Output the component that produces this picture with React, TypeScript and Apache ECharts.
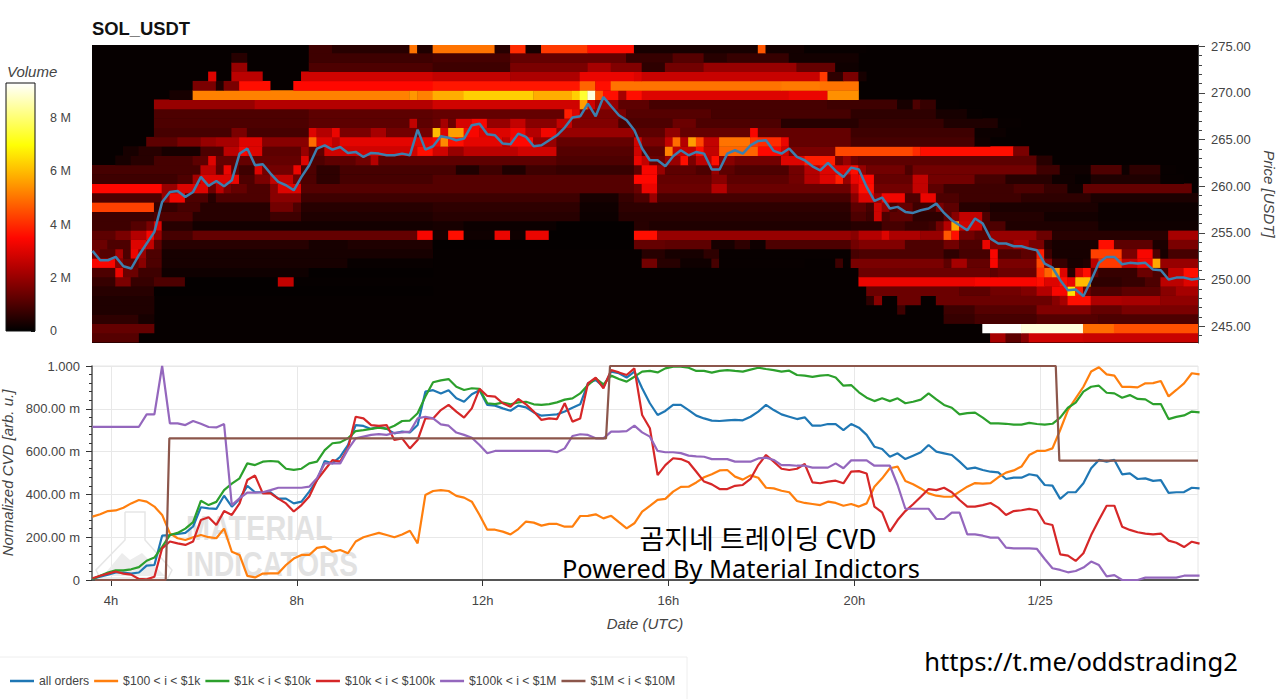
import * as echarts from "echarts";
import { useEffect, useRef } from "react";

const startHour = 3.6;
const hourTicks = [4, 8, 12, 16, 20, 24];
const hourLabels: Record<number, string> = { 4: "4h", 8: "8h", 12: "12h", 16: "16h", 20: "20h", 24: "1/25" };
const priceTicks = [245, 250, 255, 260, 265, 270, 275];
const priceMinorTicks = [244, 246, 247, 248, 249, 251, 252, 253, 254, 256, 257, 258, 259, 261, 262, 263, 264, 266, 267, 268, 269, 271, 272, 273, 274];
const seriesNames = ["all orders", "$100 < i < $1k", "$1k < i < $10k", "$10k < i < $100k", "$100k < i < $1M", "$1M < i < $10M"];
const seriesColors = ["#1f77b4", "#ff7f0e", "#2ca02c", "#d62728", "#9467bd", "#8c564b"];
const hotColors = ["#000000", "#5a0000", "#af0000", "#ff0700", "#ff5a00", "#ffaf00", "#ffff05", "#ffff82", "#ffffff"];

const priceLine = [
  253.07, 252.07, 252.07, 252.43, 251.43, 251.18, 252.61, 253.86, 255.11, 258.32, 259.39, 259.5, 258.86, 259.39, 261, 260.04,
  260.57, 260, 260.64, 263.5, 264.04, 262.25, 262.36, 261.36, 260.46, 260.11, 259.57, 261, 262.25, 264.04, 264.39, 263.93,
  264.21, 263.57, 263.68, 263.14, 263.57, 263.5, 263.32, 263.32, 263.5, 263.32, 266.07, 263.93, 264.29, 265.36, 265.21, 264.93,
  265.11, 266.54, 266.71, 265.57, 265.46, 264.57, 264.5, 265.64, 265.29, 264.29, 264.39, 264.93, 265.46, 266.29, 267.36, 267.5,
  268.86, 267.5, 269.57, 268.57, 267.61, 267.07, 266, 264.04, 262.79, 262.79, 262.14, 263.21, 263.86, 263.32, 263.68, 263.5,
  261.79, 261.79, 263.5, 263.86, 263.5, 264.39, 264.86, 264.93, 263.79, 263.5, 264.04, 263.14, 262.79, 262.14, 261.71, 262.5,
  261.64, 261, 262, 261.79, 259.93, 258.43, 258.79, 257.61, 257.79, 257.25, 257.14, 257.43, 257.61, 258.14, 257.14, 256.36,
  255.82, 255.29, 256.54, 256, 254.39, 253.86, 253.86, 253.57, 253.57, 253.32, 253.14, 251.71, 251.29, 249.93, 248.86, 248.93,
  248.21, 249.93, 251.79, 252.43, 252.43, 251.64, 251.79, 251.71, 251.79, 251.07, 251, 250, 250.21, 250.21, 250, 250.11,
];

const allOrders = [
  0.005, 0.015, 0.025, 0.035, 0.035, 0.03, 0.035, 0.067, 0.07, 0.207, 0.21, 0.215, 0.22, 0.25, 0.34, 0.335, 0.332, 0.394, 0.343, 0.379,
  0.44, 0.41, 0.41, 0.41, 0.38, 0.38, 0.358, 0.366, 0.413, 0.467, 0.556, 0.545, 0.576, 0.63, 0.724, 0.72, 0.706, 0.717, 0.706, 0.685,
  0.693, 0.69, 0.724, 0.88, 0.887, 0.872, 0.887, 0.849, 0.833, 0.868, 0.887, 0.818, 0.815, 0.802, 0.791, 0.815, 0.807, 0.783, 0.768, 0.771,
  0.774, 0.787, 0.805, 0.821, 0.919, 0.935, 0.903, 0.974, 0.966, 0.946, 0.974, 0.896, 0.826, 0.771, 0.79, 0.818, 0.818, 0.794, 0.768, 0.755,
  0.745, 0.743, 0.746, 0.748, 0.746, 0.763, 0.787, 0.818, 0.794, 0.774, 0.763, 0.752, 0.76, 0.721, 0.721, 0.729, 0.728, 0.7, 0.729, 0.712,
  0.678, 0.623, 0.612, 0.576, 0.592, 0.565, 0.581, 0.597, 0.631, 0.6, 0.592, 0.584, 0.553, 0.519, 0.525, 0.514, 0.506, 0.503, 0.472, 0.478,
  0.478, 0.494, 0.488, 0.444, 0.441, 0.379, 0.41, 0.41, 0.452, 0.522, 0.561, 0.553, 0.561, 0.494, 0.498, 0.472, 0.475, 0.463, 0.467, 0.407,
  0.41, 0.411, 0.431, 0.428,
];

const orders100to1k = [
  0.296, 0.307, 0.322, 0.325, 0.338, 0.358, 0.374, 0.366, 0.343, 0.304, 0.218, 0.195, 0.187, 0.2, 0.21, 0.2, 0.195, 0.24, 0.132, 0.117,
  0.019, 0.012, 0.03, 0.031, 0.031, 0.07, 0.1, 0.117, 0.117, 0.15, 0.156, 0.132, 0.14, 0.125, 0.18, 0.2, 0.21, 0.22, 0.21, 0.2,
  0.213, 0.23, 0.171, 0.397, 0.416, 0.42, 0.416, 0.393, 0.385, 0.366, 0.304, 0.235, 0.235, 0.226, 0.213, 0.238, 0.273, 0.268, 0.254, 0.262,
  0.262, 0.249, 0.249, 0.299, 0.3, 0.307, 0.288, 0.3, 0.27, 0.241, 0.265, 0.319, 0.346, 0.374, 0.379, 0.413, 0.435, 0.436, 0.456, 0.48,
  0.494, 0.512, 0.514, 0.483, 0.469, 0.489, 0.478, 0.431, 0.428, 0.417, 0.41, 0.369, 0.36, 0.355, 0.35, 0.366, 0.36, 0.347, 0.355, 0.343,
  0.358, 0.436, 0.475, 0.522, 0.53, 0.463, 0.447, 0.428, 0.405, 0.394, 0.389, 0.389, 0.413, 0.436, 0.453, 0.45, 0.453, 0.48, 0.502, 0.512,
  0.53, 0.584, 0.603, 0.603, 0.615, 0.701, 0.794, 0.849, 0.903, 0.974, 0.994, 0.961, 0.955, 0.902, 0.902, 0.9, 0.919, 0.92, 0.93, 0.858,
  0.888, 0.919, 0.966, 0.961,
];

const orders1kto10k = [
  0.005, 0.02, 0.035, 0.045, 0.045, 0.05, 0.06, 0.09, 0.105, 0.155, 0.21, 0.22, 0.24, 0.27, 0.37, 0.35, 0.365, 0.42, 0.45, 0.475,
  0.545, 0.537, 0.553, 0.556, 0.553, 0.52, 0.515, 0.52, 0.545, 0.553, 0.607, 0.639, 0.643, 0.662, 0.696, 0.7, 0.706, 0.712, 0.706, 0.721,
  0.743, 0.745, 0.779, 0.857, 0.924, 0.933, 0.939, 0.903, 0.888, 0.896, 0.893, 0.826, 0.822, 0.829, 0.821, 0.83, 0.833, 0.821, 0.818, 0.822,
  0.83, 0.843, 0.849, 0.872, 0.911, 0.942, 0.914, 0.955, 0.939, 0.927, 0.95, 0.974, 0.977, 0.97, 0.989, 0.997, 0.997, 0.992, 0.977, 0.977,
  0.969, 0.977, 0.981, 0.977, 0.974, 0.983, 0.992, 0.986, 0.981, 0.974, 0.978, 0.958, 0.955, 0.949, 0.955, 0.958, 0.946, 0.908, 0.911, 0.877,
  0.852, 0.836, 0.849, 0.836, 0.849, 0.826, 0.833, 0.843, 0.872, 0.844, 0.818, 0.805, 0.774, 0.78, 0.782, 0.759, 0.732, 0.732, 0.73, 0.726,
  0.726, 0.734, 0.729, 0.726, 0.73, 0.759, 0.805, 0.829, 0.88, 0.903, 0.908, 0.875, 0.872, 0.852, 0.864, 0.846, 0.844, 0.822, 0.822, 0.752,
  0.762, 0.769, 0.787, 0.783,
];

const orders10kto100k = [
  0.008, 0.02, 0.03, 0.04, 0.03, 0.025, 0.005, 0.003, 0.015, 0.148, 0.18, 0.171, 0.164, 0.18, 0.28, 0.293, 0.257, 0.322, 0.304, 0.358,
  0.467, 0.488, 0.405, 0.405, 0.38, 0.358, 0.32, 0.35, 0.39, 0.467, 0.514, 0.56, 0.553, 0.615, 0.763, 0.755, 0.724, 0.72, 0.724, 0.654,
  0.662, 0.615, 0.654, 0.755, 0.755, 0.794, 0.818, 0.787, 0.759, 0.802, 0.893, 0.86, 0.857, 0.826, 0.81, 0.846, 0.821, 0.787, 0.748, 0.755,
  0.752, 0.826, 0.74, 0.755, 0.919, 0.946, 0.896, 0.981, 0.97, 0.958, 0.989, 0.771, 0.709, 0.49, 0.537, 0.569, 0.565, 0.55, 0.506, 0.46,
  0.447, 0.425, 0.425, 0.44, 0.444, 0.472, 0.537, 0.584, 0.553, 0.52, 0.514, 0.52, 0.542, 0.456, 0.452, 0.46, 0.464, 0.452, 0.506, 0.509,
  0.498, 0.343, 0.316, 0.226, 0.28, 0.322, 0.354, 0.389, 0.425, 0.42, 0.431, 0.41, 0.374, 0.343, 0.343, 0.35, 0.36, 0.338, 0.304, 0.322,
  0.326, 0.332, 0.326, 0.265, 0.257, 0.12, 0.114, 0.089, 0.125, 0.21, 0.28, 0.347, 0.347, 0.249, 0.234, 0.223, 0.217, 0.213, 0.217, 0.184,
  0.174, 0.154, 0.179, 0.17,
];

const orders100kto1M = [
  0.716, 0.716, 0.716, 0.716, 0.716, 0.716, 0.716, 0.774, 0.774, 1, 0.732, 0.732, 0.724, 0.743, 0.73, 0.715, 0.713, 0.729, 0.35, 0.382,
  0.408, 0.408, 0.41, 0.42, 0.431, 0.431, 0.431, 0.431, 0.436, 0.475, 0.545, 0.545, 0.545, 0.61, 0.662, 0.67, 0.678, 0.682, 0.678, 0.688,
  0.69, 0.693, 0.755, 0.763, 0.755, 0.727, 0.721, 0.689, 0.678, 0.665, 0.631, 0.592, 0.603, 0.603, 0.603, 0.603, 0.603, 0.603, 0.603, 0.603,
  0.597, 0.615, 0.673, 0.681, 0.678, 0.662, 0.662, 0.693, 0.693, 0.696, 0.721, 0.69, 0.67, 0.603, 0.597, 0.597, 0.593, 0.581, 0.578, 0.576,
  0.565, 0.565, 0.565, 0.553, 0.553, 0.553, 0.568, 0.572, 0.561, 0.537, 0.537, 0.534, 0.534, 0.525, 0.525, 0.525, 0.545, 0.522, 0.559, 0.559,
  0.559, 0.534, 0.534, 0.534, 0.444, 0.333, 0.333, 0.333, 0.333, 0.285, 0.285, 0.315, 0.315, 0.213, 0.213, 0.207, 0.198, 0.198, 0.151, 0.148,
  0.148, 0.148, 0.145, 0.098, 0.055, 0.047, 0.036, 0.042, 0.058, 0.086, 0.07, 0.017, 0.023, 0, 0, 0, 0.011, 0.011, 0.011, 0.011,
  0.011, 0.02, 0.02, 0.02,
];

const orders1Mto10MHours = [3.655, 5.177, 5.255, 14.656, 14.742, 24.338, 24.415, 27.4];
const orders1Mto10M = [0, 0, 0.662, 0.662, 1, 1, 0.558, 0.558];

// volume per price row, bottom row first: pairs of first 10 min column and volume in millions
const volumeRows = [
  [0, 1.1, 6, 0, 116, 2.2, 118, 1.2, 120, 1.8, 121, 2.8, 128, 2.7],
  [0, 1.3, 8, 0, 115, 9.3, 120, 9, 128, 4.9, 132, 4.5],
  [0, 0.6, 6, 0.3, 8, 0, 110, 0.7, 114, 0.9, 122, 1.1, 130, 1],
  [0, 0.4, 8, 0, 104, 0.8, 105, 0, 110, 0.8, 114, 1.1, 122, 1.7, 129, 1.3, 133, 1.6],
  [0, 0.4, 8, 0, 100, 0.6, 101, 1.8, 102, 0, 104, 1.4, 107, 0, 109, 1.4, 124, 1.8, 125, 2.2, 126, 3.6, 129, 2.3, 133, 2.2, 138, 1.9],
  [0, 0.5, 8, 0.05, 44, 0, 100, 1.4, 112, 1.2, 116, 1.5, 120, 1.7, 122, 2.4, 124, 3.4, 126, 6.6, 127, 3.8, 128, 1.4, 129, 1, 133, 1.2, 138, 1.8, 140, 2.2],
  [0, 0.7, 3, 1.6, 5, 0.7, 8, 1, 12, 0.05, 24, 2.6, 26, 0, 99, 3.2, 114, 3.4, 122, 3.6, 123, 3, 125, 3.6, 126, 3.2, 127, 6, 129, 0.6, 133, 0.7, 136, 1, 138, 2.5, 141, 3],
  [0, 1, 3, 3.2, 4, 1.4, 6, 0.8, 9, 0.2, 28, 0.05, 44, 0, 99, 1.4, 116, 1.2, 117, 1.4, 122, 4, 123, 4.8, 124, 5.5, 125, 3, 126, 0.5, 127, 2.8, 128, 3.6, 129, 1.2, 130, 0.7, 135, 1.4, 137, 1, 139, 2.6, 141, 3.6, 143, 2.4],
  [0, 3.4, 3, 1.8, 4, 1.3, 6, 1.8, 7, 1, 9, 0.3, 33, 0.1, 44, 0, 71, 1.5, 73, 0.5, 76, 0.2, 80, 0.9, 81, 0.1, 92, 0, 96, 0.8, 97, 0.1, 98, 1.6, 110, 1.2, 111, 2.2, 113, 1.3, 116, 3.4, 117, 1.6, 122, 4.4, 123, 1.8, 124, 0.7, 126, 0.3, 128, 0.4, 129, 2.5, 130, 4.2, 133, 2.7, 135, 3.3, 137, 5.7, 138, 2],
  [0, 1.5, 1, 1.1, 3, 2.2, 4, 1, 5, 3.2, 6, 2, 7, 1, 9, 0.3, 44, 0, 71, 0.5, 74, 0.3, 79, 0.6, 81, 0.1, 98, 0.9, 99, 1, 110, 0.6, 112, 0.9, 116, 3.4, 117, 1, 120, 1.2, 122, 3.8, 123, 0.8, 124, 0.3, 129, 4.3, 133, 1.6, 135, 3.4, 137, 1, 138, 0.3, 139, 0.9],
  [0, 1.4, 2, 1, 5, 3, 7, 2.6, 8, 1.2, 9, 0.5, 28, 0.3, 33, 0.4, 44, 0.05, 70, 1.3, 74, 1.2, 80, 0.3, 83, 0.6, 85, 0.2, 87, 1, 98, 1.5, 99, 1.7, 105, 1, 110, 1.5, 112, 1, 115, 3.2, 116, 1.7, 119, 2.2, 121, 1.6, 123, 0.5, 124, 0.3, 130, 3.6, 132, 1.2, 137, 0.35, 139, 1.6],
  [0, 1.2, 3, 1.6, 5, 2.4, 7, 3.4, 8, 2, 9, 0.9, 13, 1.3, 42, 3.4, 44, 0.3, 46, 3.6, 48, 0.2, 52, 3.2, 54, 0.2, 56, 3.2, 59, 0.05, 70, 3.6, 73, 2, 98, 1.8, 99, 2.4, 102, 3, 103, 2.3, 107, 2, 110, 4.6, 111, 3.6, 112, 1.5, 114, 1.2, 116, 2, 122, 1.4, 124, 0.5, 139, 2.2],
  [0, 0.8, 5, 1.1, 7, 1.6, 8, 3, 9, 0.5, 13, 0.25, 44, 0.3, 48, 0.15, 60, 0.05, 70, 0.5, 72, 0.4, 98, 0.5, 102, 0.9, 105, 0.7, 108, 0.8, 109, 1.5, 110, 2.4, 111, 5.7, 112, 2.8, 115, 1, 118, 0.4, 130, 0.2],
  [0, 0.8, 8, 1, 13, 0.5, 23, 0.8, 27, 0.4, 44, 0.5, 63, 0.15, 68, 0.5, 98, 1, 100, 0.8, 101, 2.8, 102, 1, 103, 1.2, 106, 0.6, 110, 1.2, 111, 1.8, 112, 2.6, 115, 1, 116, 0.45, 123, 0.25, 130, 0.15],
  [0, 4.3, 8, 0.7, 11, 0.9, 14, 0.5, 23, 1.5, 26, 1, 27, 0.5, 44, 0.6, 63, 0.2, 68, 0.6, 98, 1.2, 100, 0.9, 101, 2.8, 102, 2, 103, 1, 104, 1.3, 106, 0.8, 109, 1.6, 110, 1.2, 112, 0.5, 116, 0.35, 130, 0.15],
  [0, 1, 9, 2, 10, 3.3, 12, 1, 15, 0.5, 16, 1, 23, 1.8, 27, 0.8, 63, 0.3, 68, 0.7, 70, 1, 72, 2, 73, 0.9, 98, 1.8, 99, 3, 101, 2, 102, 3.3, 105, 1, 107, 3.2, 109, 1, 112, 0.8, 120, 0.6, 129, 0.35],
  [0, 3.5, 9, 2, 11, 3, 15, 1.4, 16, 2.5, 17, 1.6, 18, 1.3, 20, 1, 23, 1.8, 24, 3, 27, 1.1, 70, 1.4, 71, 3.2, 73, 1.4, 80, 2.4, 82, 1.4, 98, 2.5, 99, 3.6, 101, 1.5, 106, 2.6, 108, 1.2, 110, 0.8, 119, 1, 123, 0.7, 126, 0.2, 128, 1.3, 142, 0],
  [0, 0.8, 11, 1, 13, 2.2, 14, 3, 18, 3.2, 19, 1, 21, 1.6, 23, 2.6, 26, 1.5, 27, 1, 29, 0.6, 32, 0.9, 44, 1.1, 70, 3.5, 73, 1.3, 80, 1.8, 82, 1.2, 90, 1.5, 92, 2.4, 94, 3, 96, 3.8, 97, 2, 98, 3.2, 99, 3.5, 101, 1.3, 106, 2.6, 108, 1.5, 114, 0.9, 118, 0.5, 124, 0.2, 127, 0.1, 129, 0.4, 138, 0.1, 141, 0],
  [0, 0.9, 14, 2.5, 16, 1.2, 17, 3.2, 18, 1.2, 19, 0.8, 21, 3, 22, 1.5, 26, 3.2, 27, 1, 29, 0.6, 32, 0.9, 47, 0.4, 50, 0.8, 53, 0.4, 56, 0.8, 60, 0.7, 70, 1.2, 71, 3.4, 73, 2, 74, 1.2, 78, 1, 80, 2, 81, 1.2, 83, 1, 90, 1.5, 92, 2.4, 94, 3, 98, 3.6, 99, 2, 100, 1.5, 105, 1, 106, 1.5, 122, 0.8, 125, 0.2, 129, 1, 133, 0.2, 134, 0.6, 138, 0.1, 140, 0],
  [0, 0, 3, 0.3, 5, 0.5, 8, 0.9, 13, 1.2, 15, 3, 16, 1.3, 27, 3, 28, 1, 30, 1.2, 34, 1.5, 36, 2.4, 37, 1.2, 60, 1, 70, 3.2, 71, 2.6, 72, 1.4, 74, 2, 76, 3.6, 77, 1.6, 78, 2.5, 80, 3.6, 81, 1.8, 83, 1.5, 89, 3, 92, 3.8, 96, 1.5, 97, 2, 98, 1.4, 99, 1.2, 122, 0.5, 124, 0],
  [0, 0, 4, 0.3, 6, 0.5, 9, 0.3, 14, 1, 17, 2.5, 19, 3.4, 20, 3, 22, 1.2, 27, 2, 28, 1.2, 30, 2.8, 42, 3.6, 44, 2.8, 46, 2, 48, 2.5, 55, 2.8, 60, 1.1, 70, 2.8, 71, 1.2, 74, 5.2, 75, 2.6, 78, 3.6, 79, 2.6, 81, 4.8, 86, 3.5, 89, 2.8, 90, 1.6, 96, 4.4, 106, 4, 107, 3.6, 119, 1.6, 121, 0],
  [0, 0, 7, 1.2, 11, 1.6, 14, 2, 16, 2.2, 19, 3, 22, 1.8, 28, 4.9, 29, 3, 31, 2.5, 32, 3.1, 44, 3.4, 45, 5.3, 46, 3.6, 48, 3.1, 53, 2.6, 54, 3.5, 57, 2, 60, 1.3, 70, 2.8, 71, 1.6, 74, 2.6, 75, 4.9, 76, 2.4, 77, 5.6, 78, 4.4, 79, 2.6, 81, 5, 85, 4.2, 86, 4, 89, 3.2, 90, 1.3, 98, 0.9, 114, 0.2, 116, 0],
  [0, 0, 8, 0.9, 18, 1.6, 20, 0.9, 28, 3, 29, 2.4, 31, 3.2, 32, 1.6, 36, 2.2, 38, 1.5, 44, 6, 45, 3, 46, 5.6, 48, 3.4, 50, 3, 54, 3.3, 56, 2.4, 58, 3.3, 60, 2, 70, 1.2, 74, 1.9, 76, 1.3, 85, 3.4, 86, 1.3, 98, 0.8, 114, 0.15, 118, 0],
  [0, 0, 8, 1, 28, 1.2, 41, 2.6, 42, 1.2, 44, 1.4, 45, 2.2, 46, 1.4, 47, 2.9, 49, 3.4, 51, 2, 54, 2.6, 56, 1.8, 60, 2.6, 62, 1.7, 68, 1, 75, 1.4, 78, 1, 89, 0.5, 99, 0.7, 110, 0.4, 117, 0.1, 120, 0],
  [0, 0, 8, 1, 28, 1.2, 44, 1.3, 61, 3.8, 62, 3, 63, 1.6, 69, 1.1, 80, 0.9, 98, 0.6, 109, 0.3, 113, 0.1, 115, 0],
  [0, 0, 8, 2, 21, 2.4, 44, 2.8, 63, 5.6, 64, 2.8, 65, 2, 68, 1.2, 72, 0.9, 95, 0.8, 104, 0.3, 106, 1, 107, 0.7, 109, 0.1, 112, 0],
  [0, 0, 10, 0.3, 13, 5.2, 41, 5.5, 42, 5.2, 44, 5.8, 48, 6.3, 57, 5.8, 62, 6.3, 63, 7.4, 64, 9, 65, 4.6, 66, 3.6, 68, 2.2, 69, 3.6, 71, 3, 90, 3.2, 95, 5.4, 99, 0],
  [0, 0, 13, 1.6, 16, 0.4, 17, 1.6, 19, 3.6, 23, 0, 26, 3.5, 44, 3.7, 63, 4.8, 65, 3.6, 67, 5, 89, 5.1, 94, 5, 99, 0],
  [0, 0, 15, 3, 16, 0, 18, 2.5, 22, 0, 27, 2.8, 44, 2.6, 54, 2.3, 63, 3.2, 70, 3, 71, 2.7, 94, 4.2, 95, 0.6, 97, 1.6, 99, 0.3, 100, 0],
  [0, 0, 18, 2, 20, 0, 28, 1, 44, 0.8, 54, 1.6, 64, 2.2, 67, 1.7, 71, 0.6, 74, 1.5, 79, 2, 91, 1.3, 96, 0.2, 99, 0],
  [0, 0, 18, 0.5, 20, 0, 28, 0.8, 44, 0.9, 54, 1.3, 69, 0.7, 75, 1.1, 79, 0.5, 82, 0.7, 90, 0.25, 99, 0],
  [0, 0, 28, 0.8, 31, 0.5, 41, 5, 42, 0.4, 44, 5, 52, 0.5, 54, 4, 56, 0.3, 58, 4.2, 64, 3.6, 70, 0.3, 86, 4.6, 87, 0.25, 92, 0.1, 100, 0],
];

const xMin = 3.59;
const xMax = 27.4;
const priceMin = 243.2;
const priceMax = 275.14;
const firstRowPrice = 243.29;
const columnCount = 143;
const volumeMax = 9.32e6;

function toLine(values: number[]) {
  return values.map((v, i) => [startHour + i / 6, v]);
}

// one item per run: first hour, last hour, lower price, volume
function volumeRuns() {
  const runs: number[][] = [];
  volumeRows.forEach((row, r) => {
    for (let k = 0; k < row.length; k += 2) {
      const end = k + 2 < row.length ? row[k + 2] : columnCount;
      if (row[k + 1] > 0) {
        runs.push([xMin + row[k] / 6, xMin + end / 6, firstRowPrice + r, row[k + 1] * 1e6]);
      }
    }
  });
  return runs;
}

function renderRun(params: any, api: any) {
  const a = api.coord([api.value(0), api.value(2)]);
  const b = api.coord([api.value(1), api.value(2) + 1]);
  const rect = echarts.graphic.clipRectByRect(
    { x: a[0], y: b[1], width: b[0] - a[0] + 0.4, height: a[1] - b[1] + 0.4 },
    params.coordSys as any
  );
  return rect && { type: "rect", shape: rect, style: { fill: api.visual("color") } };
}

function renderScale(params: any, api: any) {
  const sys = params.coordSys as any;
  const top = api.coord([0, api.value(1)])[1];
  return {
    type: "rect",
    shape: { x: sys.x, y: top, width: sys.width, height: sys.y + sys.height - top },
    style: {
      stroke: "#111111",
      lineWidth: 1,
      fill: new echarts.graphic.LinearGradient(
        0,
        1,
        0,
        0,
        hotColors.map((color, i) => ({ offset: i / (hotColors.length - 1), color }))
      ),
    },
  };
}

function cvdLabel(v: number) {
  if (v === 0) return "0";
  if (v === 1) return "1.000";
  return `${(v * 1000).toFixed(2)} m`;
}

export default function App() {
  const chartRef = useRef<HTMLDivElement>(null);

  useEffect(() => {
    if (!chartRef.current) return;

    const chart = echarts.init(chartRef.current, null, { renderer: "svg" });
    const font = "Liberation Sans";
    const axisGrey = "#444444";
    const labelStyle = { color: axisGrey, fontSize: 13, fontFamily: font };
    const nameStyle = { color: axisGrey, fontSize: 15, fontFamily: font, fontStyle: "italic" };
    const cvdValues = [allOrders, orders100to1k, orders1kto10k, orders10kto100k, orders100kto1M];

    chart.setOption({
      animation: false,
      backgroundColor: "#ffffff",
      textStyle: { fontFamily: font },
      title: {
        text: "SOL_USDT",
        left: 92,
        top: 19,
        padding: 0,
        textStyle: { fontSize: 18.4, fontWeight: "bold", color: "#111111", fontFamily: font },
      },
      legend: {
        data: seriesNames,
        left: 10,
        top: 675,
        padding: 0,
        itemGap: 5,
        itemWidth: 24,
        itemHeight: 2.5,
        icon: "rect",
        textStyle: { fontSize: 12.2, color: axisGrey, fontFamily: font },
      },
      grid: [
        { left: 92, top: 45, width: 1106, height: 298, outerBoundsMode: "none", show: true, backgroundColor: "#060000", borderWidth: 0 },
        { left: 92, top: 366, width: 1106, height: 214, outerBoundsMode: "none", show: true, borderColor: "#e6e6e6", borderWidth: 1 },
        { left: 6, top: 83, width: 29, height: 248, outerBoundsMode: "none" },
      ],
      xAxis: [
        { type: "value", gridIndex: 0, min: xMin, max: xMax, show: false },
        {
          type: "value",
          gridIndex: 1,
          min: xMin,
          max: xMax,
          name: "Date (UTC)",
          nameLocation: "middle",
          nameGap: 36,
          nameTextStyle: nameStyle,
          axisLine: { lineStyle: { color: "#555555", width: 2 } },
          axisTick: { length: 6, lineStyle: { color: "#333333" }, customValues: hourTicks },
          axisLabel: { ...labelStyle, margin: 14, customValues: hourTicks, formatter: (v: number) => hourLabels[v] ?? "" },
          splitLine: { show: true, lineStyle: { color: "#e8e8e8" } },
        },
        { type: "category", gridIndex: 2, data: ["Volume"], show: false },
      ],
      yAxis: [
        {
          type: "value",
          gridIndex: 0,
          position: "right",
          min: priceMin,
          max: priceMax,
          name: "Price [USDT]",
          nameLocation: "middle",
          nameRotate: 270,
          nameGap: 62,
          nameTextStyle: nameStyle,
          axisLine: { show: true, lineStyle: { color: axisGrey } },
          axisTick: { length: 7, lineStyle: { color: axisGrey }, customValues: priceTicks },
          axisLabel: { ...labelStyle, margin: 13, customValues: priceTicks, formatter: (v: number) => v.toFixed(2) },
          splitLine: { show: false },
        },
        {
          type: "value",
          gridIndex: 0,
          position: "right",
          min: priceMin,
          max: priceMax,
          axisLine: { show: false },
          axisTick: { length: 4, lineStyle: { color: axisGrey }, customValues: priceMinorTicks },
          axisLabel: { show: false, customValues: priceMinorTicks },
          splitLine: { show: false },
        },
        {
          type: "value",
          gridIndex: 1,
          min: 0,
          max: 1,
          interval: 0.2,
          name: "Normalized CVD [arb. u.]",
          nameLocation: "middle",
          nameGap: 73,
          nameTextStyle: nameStyle,
          axisLine: { show: true, lineStyle: { color: "#555555", width: 1.5 } },
          axisTick: { show: true, length: 6, lineStyle: { color: "#333333" } },
          minorTick: { show: true, splitNumber: 5, length: 3, lineStyle: { color: "#333333" } },
          axisLabel: { ...labelStyle, margin: 12, formatter: cvdLabel },
          splitLine: { show: true, lineStyle: { color: "#e8e8e8" } },
        },
        {
          type: "value",
          gridIndex: 2,
          position: "right",
          min: 0,
          max: volumeMax,
          interval: 2e6,
          axisLine: { show: false },
          axisTick: { show: true, inside: true, length: 4, lineStyle: { color: "#111111" } },
          axisLabel: {
            ...labelStyle,
            fontSize: 12.5,
            margin: 15,
            showMaxLabel: false,
            formatter: (v: number) => (v === 0 ? "0" : `${v / 1e6} M`),
          },
          splitLine: { show: false },
        },
      ],
      visualMap: {
        show: false,
        type: "continuous",
        seriesIndex: 0,
        dimension: 3,
        min: 0,
        max: volumeMax,
        inRange: { color: hotColors },
      },
      graphic: [
        { type: "rect", z: -1, shape: { x: -1, y: 657, width: 688, height: 43 }, style: { fill: "#ffffff", stroke: "#eeeeee" } },
        { type: "text", x: 7, y: 64, style: { text: "Volume", fill: axisGrey, font: `italic 15px "${font}"` } },
        {
          type: "polyline",
          z: 1,
          shape: { points: [[125, 512], [145, 512], [145, 540], [172, 570], [168, 578], [100, 578], [96, 570], [125, 540], [125, 512]] },
          style: { fill: "none", stroke: "#e6e6e6", lineWidth: 1.5 },
        },
        {
          type: "polygon",
          z: 1,
          shape: { points: [[103, 576], [122, 553], [130, 560], [142, 553], [165, 576]] },
          style: { fill: "#ececec" },
        },
        {
          type: "text",
          z: 1,
          x: 186,
          y: 527,
          scaleX: 0.8,
          style: { text: "MATERIAL", fill: "#e2e2e2", font: `bold 36px "${font}"`, verticalAlign: "middle" },
        },
        {
          type: "text",
          z: 1,
          x: 186,
          y: 564,
          scaleX: 0.78,
          style: { text: "INDICATORS", fill: "#e2e2e2", font: `bold 36px "${font}"`, verticalAlign: "middle" },
        },
        {
          type: "text",
          z: 20,
          x: 758,
          y: 537,
          style: { text: "곰지네 트레이딩 CVD", fill: "#000000", font: '27px "Noto Sans CJK KR"', align: "center", verticalAlign: "middle" },
        },
        {
          type: "text",
          z: 20,
          x: 741,
          y: 568,
          style: { text: "Powered By Material Indictors", fill: "#000000", font: '25.4px "Noto Sans"', align: "center", verticalAlign: "middle" },
        },
        {
          type: "text",
          z: 20,
          x: 1081,
          y: 661,
          style: { text: "https://t.me/oddstrading2", fill: "#000000", font: '25.6px "Noto Sans"', align: "center", verticalAlign: "middle" },
        },
      ],
      series: [
        {
          type: "custom",
          name: "Volume map",
          xAxisIndex: 0,
          yAxisIndex: 0,
          renderItem: renderRun,
          encode: { x: [0, 1], y: 2 },
          data: volumeRuns(),
          silent: true,
        },
        {
          type: "line",
          name: "Price",
          xAxisIndex: 0,
          yAxisIndex: 0,
          data: toLine(priceLine),
          symbol: "none",
          clip: true,
          lineStyle: { color: "#3d7fae", width: 2.5 },
          itemStyle: { color: "#3d7fae" },
        },
        ...cvdValues.map((values, i) => ({
          type: "line",
          name: seriesNames[i],
          xAxisIndex: 1,
          yAxisIndex: 2,
          data: toLine(values),
          symbol: "none",
          clip: true,
          lineStyle: { color: seriesColors[i], width: 2.2 },
          itemStyle: { color: seriesColors[i] },
        })),
        {
          type: "line",
          name: seriesNames[5],
          xAxisIndex: 1,
          yAxisIndex: 2,
          data: orders1Mto10MHours.map((h, i) => [h, orders1Mto10M[i]]),
          symbol: "none",
          clip: true,
          lineStyle: { color: seriesColors[5], width: 2.2 },
          itemStyle: { color: seriesColors[5] },
        },
        {
          type: "custom",
          name: "Volume scale",
          xAxisIndex: 2,
          yAxisIndex: 3,
          renderItem: renderScale,
          data: [[0, volumeMax]],
          silent: true,
        },
      ],
    });

    return () => {
      chart.dispose();
    };
  }, []);

  return <div ref={chartRef} style={{ position: "fixed", left: 0, top: 0, width: 1280, height: 699 }} />;
}
